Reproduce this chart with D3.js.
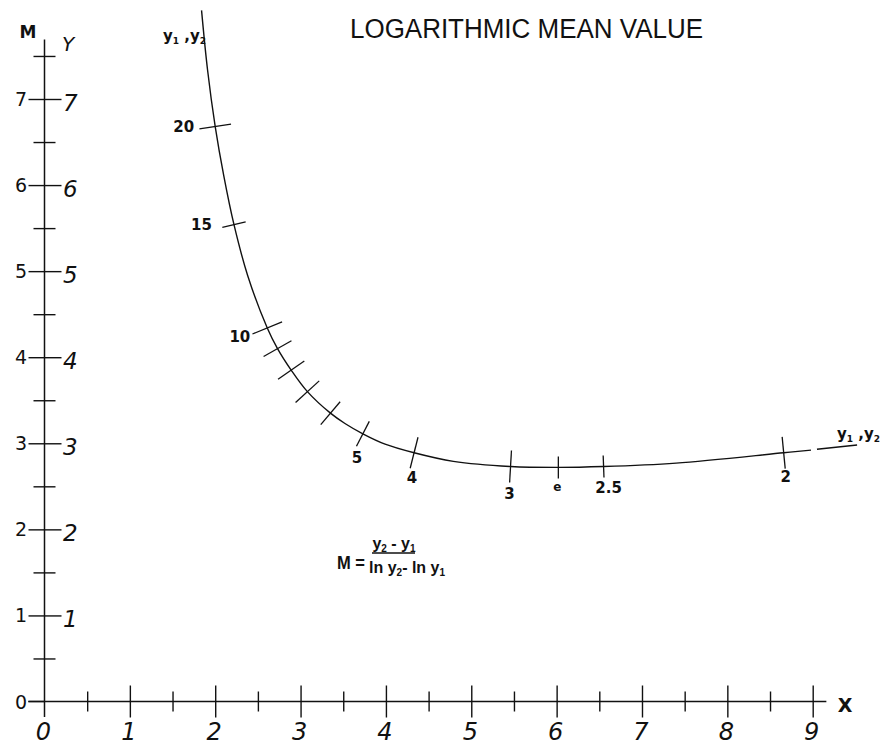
<!DOCTYPE html>
<html>
<head>
<meta charset="utf-8">
<script src="https://cdn.jsdelivr.net/npm/d3@7"></script>
<style>
  body { margin: 0; background: #fff; }
  svg { display: block; }
  .upright { font-family: "DejaVu Sans", sans-serif; font-weight: bold; fill: #111; }
  .slant { font-family: "DejaVu Sans", sans-serif; font-style: oblique; fill: #111; }
  .formula { font-family: "Liberation Sans", Arial, sans-serif; font-weight: bold; fill: #111; }
</style>
</head>
<body>
<div id="chart"></div>
<script>
// axis values
const xMajor = [0, 1, 2, 3, 4, 5, 6, 7, 8, 9];
const xMinor = [0.5, 1.5, 2.5, 3.5, 4.5, 5.5, 6.5, 7.5, 8.5];
const yMajor = [0, 1, 2, 3, 4, 5, 6, 7];
const yMinor = [0.5, 1.5, 2.5, 3.5, 4.5, 5.5, 6.5, 7.5];

// y1,y2 scale: tick marks (X, Y in axis units)
const curveTickLabels = ["20", "15", "10", "9", "8", "7", "6", "5", "4", "3", "e", "2.5", "2"];
const curveTickShown  = [true, true, true, false, false, false, false, true, true, true, true, true, true];
const curveTickX = [2.00, 2.22, 2.61, 2.73, 2.89, 3.08, 3.35, 3.73, 4.33, 5.46, 6.02, 6.55, 8.66];
const curveTickY = [6.68, 5.54, 4.34, 4.10, 3.85, 3.60, 3.35, 3.11, 2.89, 2.73, 2.72, 2.73, 2.89];

// points along the drawn curve (null = gap in the line)
const pathX = [1.84, 1.91, 2.00, 2.10, 2.22, 2.38, 2.61, 2.73, 2.89, 3.08, 3.35, 3.52, 3.73, 3.99, 4.33, 4.79, 5.46, 6.02, 6.55, 7.40, 8.66, 8.98, null, 9.05, 9.52];
const pathY = [8.03, 7.34, 6.68, 6.11, 5.54, 4.95, 4.34, 4.10, 3.85, 3.60, 3.35, 3.23, 3.11, 2.99, 2.89, 2.79, 2.73, 2.72, 2.73, 2.77, 2.89, 2.92, null, 2.93, 2.98];

const width = 885, height = 747;

const svg = d3.select("#chart").append("svg")
  .attr("width", width)
  .attr("height", height);

const x = d3.scaleLinear().domain([0, 9]).range([44.5, 812.7]);
const y = d3.scaleLinear().domain([0, 7]).range([701.5, 99]);

const ink = "#111";

// title
svg.append("text")
  .attr("x", 350).attr("y", 38)
  .attr("textLength", 353).attr("lengthAdjust", "spacingAndGlyphs")
  .style("font-family", "'Liberation Sans', sans-serif")
  .style("font-size", "27px")
  .style("fill", ink)
  .text("LOGARITHMIC MEAN VALUE");

// ---- horizontal X axis ----
svg.append("line")
  .attr("x1", x(-0.19)).attr("x2", x(9.16))
  .attr("y1", y(0)).attr("y2", y(0))
  .attr("stroke", ink).attr("stroke-width", 1.5);

function crossTicks(axisA, axisB, scale, vals, a, b, tr) {
  [[axisA, a], [axisB, b]].forEach(([fn, len]) => {
    const g = svg.append("g")
      .attr("transform", tr)
      .call(fn(scale).tickValues(vals).tickSize(len).tickFormat(""));
    g.select(".domain").remove();
    g.selectAll("line").attr("stroke", ink).attr("stroke-width", 1.4);
  });
}

crossTicks(d3.axisBottom, d3.axisTop, x, xMajor.slice(1), 16, 16, `translate(0,${y(0)})`);
crossTicks(d3.axisBottom, d3.axisTop, x, xMinor, 10, 10, `translate(0,${y(0)})`);

svg.selectAll(".xlab")
  .data(xMajor)
  .enter().append("text")
  .attr("class", "slant")
  .attr("x", d => x(d) - 1)
  .attr("y", 740)
  .attr("text-anchor", "middle")
  .style("font-size", "24px")
  .text(d => d);

svg.append("text")
  .attr("class", "upright")
  .attr("x", 845).attr("y", 712)
  .attr("text-anchor", "middle")
  .style("font-size", "19px")
  .text("X");

// ---- vertical M / Y axis ----
svg.append("line")
  .attr("x1", x(0)).attr("x2", x(0))
  .attr("y1", y(-0.18)).attr("y2", y(7.69))
  .attr("stroke", ink).attr("stroke-width", 1.5);

crossTicks(d3.axisLeft, d3.axisRight, y, yMajor.slice(1), 16, 17, `translate(${x(0)},0)`);
crossTicks(d3.axisLeft, d3.axisRight, y, yMinor, 11, 11, `translate(${x(0)},0)`);

// 0 tick on the left
svg.append("line")
  .attr("x1", x(0) - 16).attr("x2", x(0))
  .attr("y1", y(0)).attr("y2", y(0))
  .attr("stroke", ink).attr("stroke-width", 1.4);

svg.selectAll(".mlab")
  .data(yMajor)
  .enter().append("text")
  .attr("class", "upright")
  .attr("x", 27)
  .attr("y", d => y(d) + 7)
  .attr("text-anchor", "end")
  .style("font-size", "19px")
  .style("font-weight", "normal")
  .text(d => d);

svg.selectAll(".ylab")
  .data(yMajor.slice(1))
  .enter().append("text")
  .attr("class", "slant")
  .attr("x", 63)
  .attr("y", d => y(d) + 12)
  .style("font-size", "23px")
  .text(d => d);

svg.append("text")
  .attr("class", "upright")
  .attr("x", 28).attr("y", 38)
  .attr("text-anchor", "middle")
  .style("font-size", "17px")
  .text("M");

svg.append("text")
  .attr("class", "slant")
  .attr("x", 68).attr("y", 51)
  .attr("text-anchor", "middle")
  .style("font-size", "20px")
  .text("Y");

// ---- y1,y2 curve ----
const pts = pathX.map((d, i) => ({ X: d, Y: pathY[i] }));

const line = d3.line()
  .defined(d => d.X !== null)
  .x(d => x(d.X))
  .y(d => y(d.Y))
  .curve(d3.curveCatmullRom.alpha(0.5));

svg.append("path")
  .datum(pts)
  .attr("d", line)
  .attr("fill", "none")
  .attr("stroke", ink)
  .attr("stroke-width", 1.4);

// tick marks perpendicular to the curve
const tickLen = { "15": 24, "e": 22, "2.5": 22, "5": 28, "6": 30 };
const labelNudge = {
  "20": [-21, 5, "end"], "15": [-22, 5, "end"], "10": [-17, 14, "end"],
  "5": [-6, 29, "middle"], "4": [-2, 30, "middle"], "3": [-1, 32, "middle"],
  "e": [-1, 24, "middle"], "2.5": [5, 26, "middle"], "2": [2, 29, "middle"]
};

curveTickLabels.forEach((lab, i) => {
  const px = x(curveTickX[i]), py = y(curveTickY[i]);
  const j = pathX.indexOf(curveTickX[i]);
  let a = pts[j - 1], b = pts[j + 1];
  if (!a || a.X === null) a = pts[j];
  if (!b || b.X === null) b = pts[j];
  let tx = x(b.X) - x(a.X), ty = y(b.Y) - y(a.Y);
  const n = Math.hypot(tx, ty);
  tx /= n; ty /= n;
  const nx = ty, ny = -tx; // normal
  const half = (tickLen[lab] || 32) / 2;
  svg.append("line")
    .attr("x1", px - nx * half).attr("y1", py - ny * half)
    .attr("x2", px + nx * half).attr("y2", py + ny * half)
    .attr("stroke", ink).attr("stroke-width", 1.3);

  if (curveTickShown[i]) {
    const [dx, dy, anchor] = labelNudge[lab];
    svg.append("text")
      .attr("class", "upright")
      .attr("x", px + dx).attr("y", py + dy)
      .attr("text-anchor", anchor)
      .style("font-size", lab === "e" ? "12px" : "15px")
      .text(lab);
  }
});

// y1, y2 labels
function yPair(xp, yp, size) {
  const t = svg.append("text")
    .attr("class", "upright")
    .attr("x", xp).attr("y", yp)
    .style("font-size", size + "px");
  t.append("tspan").text("y");
  t.append("tspan").attr("dy", 3).style("font-size", (size * 0.6) + "px").text("1");
  t.append("tspan").attr("dy", -3).text(" ,");
  t.append("tspan").text("y");
  t.append("tspan").attr("dy", 3).style("font-size", (size * 0.6) + "px").text("2");
}
yPair(163, 41, 15);
yPair(837, 439, 15);

// formula
svg.append("text")
  .attr("class", "formula")
  .attr("x", 337).attr("y", 569)
  .attr("textLength", 28).attr("lengthAdjust", "spacingAndGlyphs")
  .style("font-size", "18px")
  .text("M =");

const num = svg.append("text")
  .attr("class", "formula")
  .attr("x", 394).attr("y", 549)
  .attr("text-anchor", "middle")
  .style("font-size", "16px");
num.append("tspan").text("y");
num.append("tspan").attr("dy", 3).style("font-size", "10px").text("2");
num.append("tspan").attr("dy", -3).text(" - y");
num.append("tspan").attr("dy", 3).style("font-size", "10px").text("1");

svg.append("line")
  .attr("x1", 372).attr("x2", 415)
  .attr("y1", 553).attr("y2", 553)
  .attr("stroke", ink).attr("stroke-width", 1.5);

const den = svg.append("text")
  .attr("class", "formula")
  .attr("x", 369).attr("y", 573)
  .style("font-size", "16px");
den.append("tspan").text("ln y");
den.append("tspan").attr("dy", 3).style("font-size", "10px").text("2");
den.append("tspan").attr("dy", -3).text("- ln y");
den.append("tspan").attr("dy", 3).style("font-size", "10px").text("1");
</script>
</body>
</html>
